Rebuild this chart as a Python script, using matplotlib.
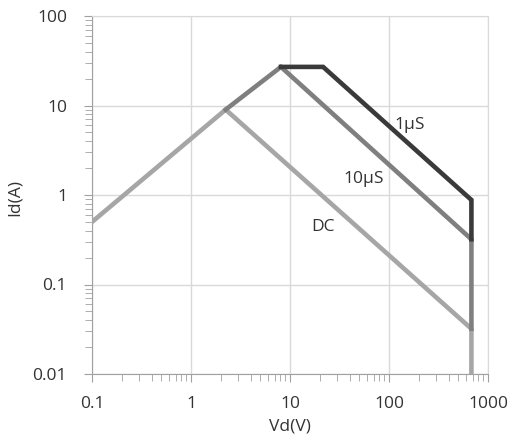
import matplotlib
matplotlib.use("Agg")
import matplotlib.pyplot as plt
from matplotlib.ticker import LogLocator, FixedLocator, FixedFormatter, NullFormatter

# Data (Vd in V, Id in A)
dc_x = [0.1, 2.24, 680, 680]
dc_y = [0.5, 9.0, 0.032, 0.01]
us10_x = [2.24, 8.1, 680, 680]
us10_y = [9.0, 27.0, 0.32, 0.032]
us1_x = [8.1, 21.6, 680, 680]
us1_y = [27.0, 27.0, 0.88, 0.32]

x_ticks = [0.1, 1, 10, 100, 1000]
x_labels = ["0.1", "1", "10", "100", "1000"]
y_ticks = [0.01, 0.1, 1, 10, 100]
y_labels = ["0.01", "0.1", "1", "10", "100"]

labels = ["DC", "10\u00b5S", "1\u00b5S"]
label_pos = [(21.5, 0.44), (55, 1.51), (162, 6.0)]

plt.rcParams['font.family'] = ['Open Sans', 'DejaVu Sans']

fig = plt.figure(figsize=(5.11, 4.43), dpi=100)
ax = fig.add_axes([92/511, 1 - 374/443, (488-92)/511, (374-16)/443])
ax.set_xscale('log')
ax.set_yscale('log')
ax.set_xlim(0.1, 1000)
ax.set_ylim(0.01, 100)

ax.grid(True, which='major', color='#d9d9d9', linewidth=1)
ax.set_axisbelow(True)

lw = 3.3
ax.plot(dc_x, dc_y, color='#a6a6a6', lw=lw, solid_joinstyle='miter', zorder=3)
ax.plot(us10_x, us10_y, color='#7f7f7f', lw=lw, solid_joinstyle='miter', zorder=4)
ax.plot(us1_x, us1_y, color='#3a3a3a', lw=lw, solid_joinstyle='miter', zorder=5)

for t, (px, py) in zip(labels, label_pos):
    ax.text(px, py, t, ha='center', va='center', fontsize=12.5, color='#333333', zorder=6)

ax.xaxis.set_major_locator(FixedLocator(x_ticks))
ax.xaxis.set_major_formatter(FixedFormatter(x_labels))
ax.yaxis.set_major_locator(FixedLocator(y_ticks))
ax.yaxis.set_major_formatter(FixedFormatter(y_labels))
ax.xaxis.set_minor_locator(LogLocator(base=10, subs=range(2, 10)))
ax.yaxis.set_minor_locator(LogLocator(base=10, subs=range(2, 10)))
ax.xaxis.set_minor_formatter(NullFormatter())
ax.yaxis.set_minor_formatter(NullFormatter())

for s in ['top', 'right']:
    ax.spines[s].set_color('#d9d9d9')
for s in ['left', 'bottom']:
    ax.spines[s].set_color('#a0a0a0')
ax.tick_params(which='both', direction='out', color='#a0a0a0', labelsize=12.5, labelcolor='#333333')
ax.tick_params(which='major', length=6)
ax.tick_params(which='minor', length=5)
ax.tick_params(axis='x', which='major', pad=10)
ax.tick_params(axis='y', which='major', pad=12)

ax.set_xlabel('Vd(V)', fontsize=12.5, color='#333333')
ax.set_ylabel('Id(A)', fontsize=12.5, color='#333333')
ax.xaxis.set_label_coords(0.5, -0.125)
ax.yaxis.set_label_coords(-0.175, 0.494)

fig.savefig('out.png', dpi=100)
